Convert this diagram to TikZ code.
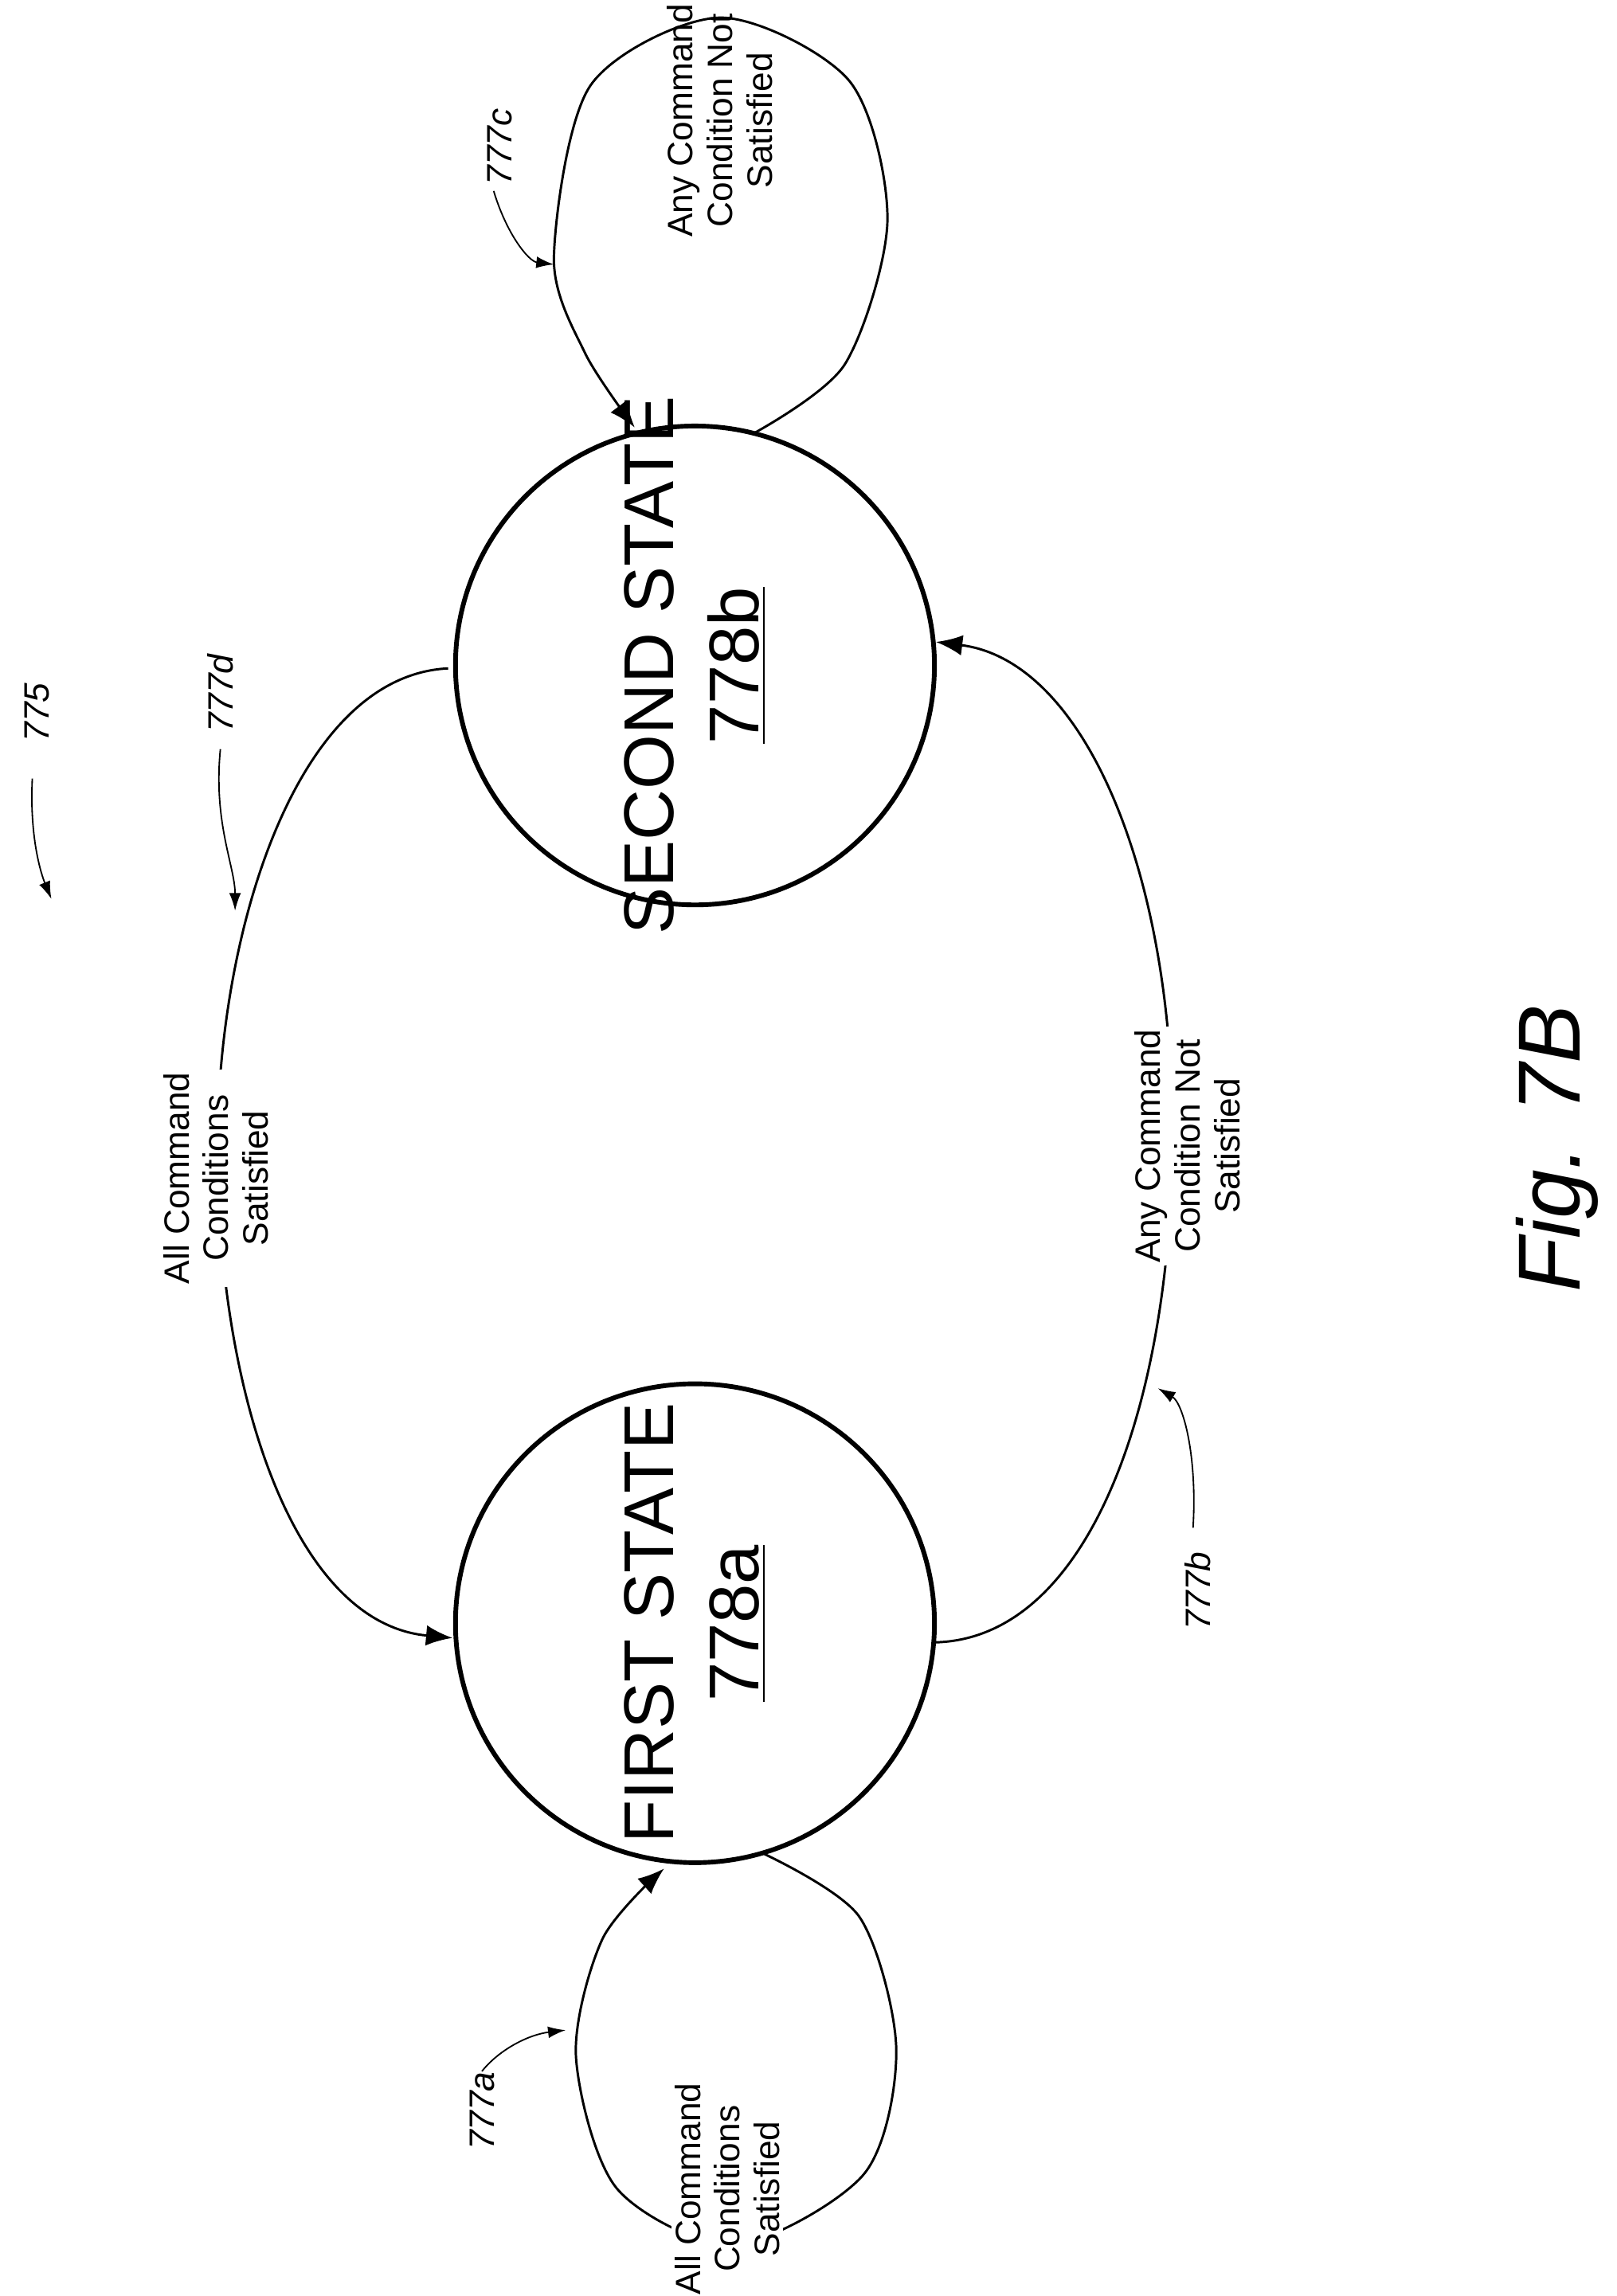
\documentclass[tikz,border=0pt]{standalone}
\usepackage{fontspec}
\setmainfont{Liberation Sans}
\usetikzlibrary{arrows.meta}
\begin{document}
\begin{tikzpicture}[x=0.5pt,y=-0.5pt,
  state/.style={circle,draw,line width=1.6pt,minimum size=163pt,inner sep=0pt,align=center,font=\fontsize{24}{27}\selectfont},
  lbl/.style={rotate=90,align=center,fill=white,inner sep=1pt,font=\fontsize{12}{13.5}\selectfont},
  ref/.style={rotate=90,font=\itshape\fontsize{12}{14}\selectfont},
  conn/.style={line width=0.8pt,-{Latex[length=9pt,width=7pt]}},
  lead/.style={line width=0.5pt,-{Latex[length=6pt,width=4pt]}}]
\useasboundingbox (0,0) rectangle (1100,1563);
\node[state] (s2) at (473,453) {};
\node[rotate=90,align=center,font=\fontsize{24}{29}\selectfont] (t2) at (473,453) {SECOND STATE\\\underline{778b}};
\node[state] (s1) at (473,1105) {};
\node[rotate=90,align=center,font=\fontsize{24}{29}\selectfont] (t1) at (473,1105) {FIRST STATE\\\underline{778a}};
% 777d
\draw[conn] (305,455) .. controls (200,460) and (146,640) .. (148,790) .. controls (150,950) and (200,1105) .. (308,1115);
\node[lbl] (ld) at (147,802) {All Command\\Conditions\\Satisfied};
% 777b
\draw[conn] (637,1118) .. controls (740,1115) and (796,960) .. (798,780) .. controls (800,600) and (740,450) .. (637,437);
\node[lbl] (lb) at (808,780) {Any Command\\Condition Not\\Satisfied};
% top loop 777c
\draw[conn] plot[smooth] coordinates {(513,295) (575,248) (604,150) (578,55) (490,12) (402,58) (377,175) (398,240) (432,291)};
\node[lbl,fill=none] (lc) at (490,82) {Any Command\\Condition Not\\Satisfied};
% bottom loop 777a
\draw[conn] plot[smooth] coordinates {(520,1262) (585,1305) (610,1395) (588,1480) (500,1528) (420,1490) (392,1400) (410,1320) (452,1272)};
\node[lbl] (la) at (495,1490) {All Command\\Conditions\\Satisfied};
% reference labels
\node[ref] (r775) at (25,485) {775};
\coordinate (e775) at (35,612);
\draw[lead] (22,530) .. controls (20,570) and (28,595) .. (e775);
\node[ref] (r777d) at (150,472) {777d};
\coordinate (e777d) at (160,620);
\draw[lead] (150,510) .. controls (145,560) and (160,590) .. (e777d);
\node[ref] (r777c) at (340,100) {777c};
\coordinate (e777c) at (377,180);
\draw[lead] (336,130) .. controls (345,160) and (360,178) .. (e777c);
\node[ref] (r777b) at (815,1083) {777b};
\coordinate (e777b) at (788,945);
\draw[lead] (812,1040) .. controls (815,990) and (805,955) .. (e777b);
\node[ref] (r777a) at (328,1437) {777a};
\coordinate (e777a) at (385,1382);
\draw[lead] (328,1410) .. controls (340,1395) and (360,1385) .. (e777a);
\node[rotate=90,font=\itshape\fontsize{30}{34}\selectfont] (fig) at (1060,782) {Fig. 7B};
\end{tikzpicture}
\end{document}
